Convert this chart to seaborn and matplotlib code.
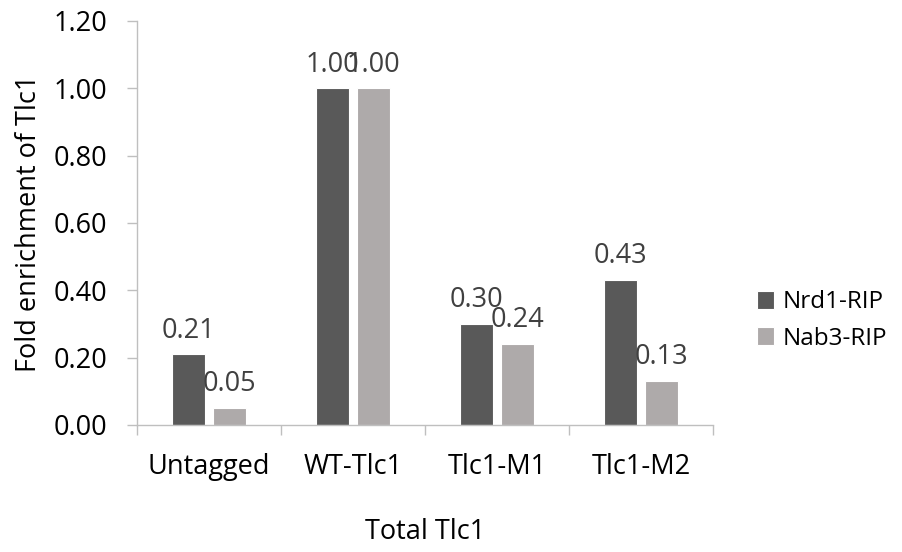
import matplotlib
matplotlib.use("Agg")
import matplotlib.pyplot as plt
import seaborn as sns
import pandas as pd

categories = ["Untagged", "WT-Tlc1", "Tlc1-M1", "Tlc1-M2"]
series_names = ["Nrd1-RIP", "Nab3-RIP"]
nrd1_values = [0.21, 1.00, 0.30, 0.43]
nab3_values = [0.05, 1.00, 0.24, 0.13]
y_ticks = [0.0, 0.2, 0.4, 0.6, 0.8, 1.0, 1.2]

df = pd.DataFrame({
    "category": categories * 2,
    "series": [series_names[0]] * len(categories) + [series_names[1]] * len(categories),
    "value": nrd1_values + nab3_values,
})

sns.set_theme(style="white")
plt.rcParams["font.family"] = ["Open Sans", "DejaVu Sans"]
FS = 19.5

fig = plt.figure(figsize=(9.03, 5.52), dpi=100)
ax = fig.add_axes([0.1517, 0.2301, 0.6379, 0.7319])

palette = {"Nrd1-RIP": "#595959", "Nab3-RIP": "#AEAAAA"}
sns.barplot(data=df, x="category", y="value", hue="series", order=categories,
            hue_order=series_names, palette=palette, width=0.57, gap=0.19,
            saturation=1, edgecolor="white", linewidth=0.8, ax=ax, legend=True)

for cont in ax.containers:
    ax.bar_label(cont, fmt="%.2f", padding=7, fontsize=FS, color="#404040")

ax.set_xlim(-0.5, len(categories) - 0.5)
ax.set_ylim(0, 1.2)
ax.set_yticks(y_ticks)
ax.set_yticklabels([f"{t:.2f}" for t in y_ticks], fontsize=FS, color="#000000")

# category boundaries carry the x tick marks
ax.set_xticks([i - 0.5 for i in range(len(categories) + 1)], minor=False)
ax.set_xticklabels([])
ax.set_xticks(range(len(categories)), minor=True)
ax.set_xticklabels(categories, minor=True, fontsize=FS, color="#000000")
ax.tick_params(axis="x", which="major", length=7.2, width=1, color="#BFBFBF", direction="out", bottom=True)
ax.tick_params(axis="x", which="minor", length=0, pad=20.5)
ax.tick_params(axis="y", length=7.2, width=1, color="#BFBFBF", direction="out", left=True, pad=14)

for side in ["top", "right"]:
    ax.spines[side].set_visible(False)
for side in ["left", "bottom"]:
    ax.spines[side].set_color("#BFBFBF")
    ax.spines[side].set_linewidth(1)

ax.set_xlabel("Total Tlc1", fontsize=FS, color="#000000")
ax.xaxis.label.set_va("center")
ax.xaxis.set_label_coords(0.5, -0.266)
ax.set_ylabel("Fold enrichment of Tlc1", fontsize=FS, color="#000000")
ax.yaxis.label.set_va("center")
ax.yaxis.set_label_coords(-0.188, 0.5)

leg = ax.legend(loc="center left", bbox_to_anchor=(757 / 903, 1 - 320.5 / 552),
                bbox_transform=fig.transFigure, frameon=False, borderpad=0,
                borderaxespad=0, fontsize=17.5, handlelength=0.72, handleheight=0.72,
                labelspacing=0.5, handletextpad=0.35)
for t in leg.get_texts():
    t.set_color("#000000")

fig.savefig("out.png", dpi=100)
